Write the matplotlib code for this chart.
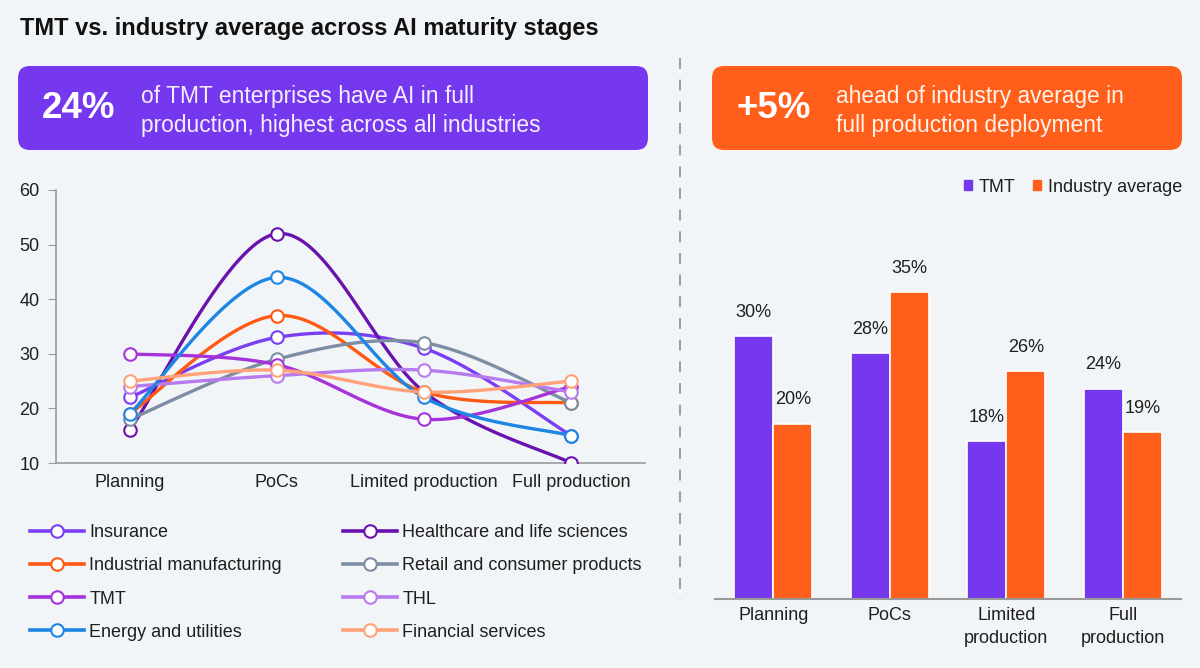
import numpy as np
import matplotlib
import matplotlib.pyplot as plt
from matplotlib.patches import FancyBboxPatch, Patch
from matplotlib.lines import Line2D

matplotlib.use('Agg')
plt.rcParams['font.family'] = ['Liberation Sans', 'DejaVu Sans']

# ---- data ----
stages = ['Planning', 'PoCs', 'Limited production', 'Full production']
bar_stages = ['Planning', 'PoCs', 'Limited\nproduction', 'Full\nproduction']

industries = ['Insurance', 'Healthcare and life sciences', 'Industrial manufacturing',
              'Retail and consumer products', 'TMT', 'THL', 'Energy and utilities',
              'Financial services']
insurance = [22, 33, 31, 15]
healthcare = [16, 52, 23, 10]
industrial = [19, 37, 23, 21]
retail = [18, 29, 32, 21]
tmt = [30, 28, 18, 24]
thl = [24, 26, 27, 23]
energy = [19, 44, 22, 15]
financial = [25, 27, 23, 25]
series = [insurance, healthcare, industrial, retail, tmt, thl, energy, financial]
line_colors = ['#7b3ff2', '#6a12ad', '#ff5a14', '#7d8da3', '#a633d9', '#b87bed', '#1d86e3', '#ffa27a']

tmt_share = [30, 28, 18, 24]
industry_avg = [20, 35, 26, 19]

BG = '#f2f5f8'
PURPLE = '#7538ef'
ORANGE = '#ff5f1a'
TXT = '#1f1f1f'
FS = 13


def smooth(xs, ys, n=40):
    # catmull-rom through the points, roughly like the smoothed office lines
    pts = np.column_stack([xs, ys]).astype(float)
    p = np.vstack([pts[0], pts, pts[-1]])
    t = np.linspace(0, 1, n)[:, None]
    out = []
    for i in range(1, len(p) - 2):
        p0, p1, p2, p3 = p[i - 1], p[i], p[i + 1], p[i + 2]
        seg = 0.5 * (2 * p1 + (-p0 + p2) * t + (2 * p0 - 5 * p1 + 4 * p2 - p3) * t ** 2
                     + (-p0 + 3 * p1 - 3 * p2 + p3) * t ** 3)
        out.append(seg)
    return np.vstack(out)


fig = plt.figure(figsize=(12, 6.68), dpi=100, facecolor=BG)

# background layer in pixel coordinates
bg = fig.add_axes([0, 0, 1, 1])
bg.set_xlim(0, 1200)
bg.set_ylim(668, 0)
bg.axis('off')
bg.text(20, 28, 'TMT vs. industry average across AI maturity stages', fontsize=17,
        fontweight='bold', color='#111111', va='center', ha='left')

bg.add_patch(FancyBboxPatch((18, 66), 630, 84, boxstyle='round,pad=0,rounding_size=12',
                            facecolor=PURPLE, edgecolor='none'))
bg.text(42, 109, '24%', fontsize=26.5, fontweight='bold', color='white', va='center', ha='left')
bg.text(141, 111, 'of TMT enterprises have AI in full\nproduction, highest across all industries',
        fontsize=16.4, color='#f4efff', va='center', ha='left', linespacing=1.32)

bg.add_patch(FancyBboxPatch((712, 66), 470, 84, boxstyle='round,pad=0,rounding_size=12',
                            facecolor=ORANGE, edgecolor='none'))
bg.text(737, 109, '+5%', fontsize=26.5, fontweight='bold', color='white', va='center', ha='left')
bg.text(836, 111, 'ahead of industry average in\nfull production deployment',
        fontsize=16.4, color='#fff3ec', va='center', ha='left', linespacing=1.32)

bg.plot([680, 680], [58, 600], color='#8a97aa', lw=1.3, ls=(0, (6, 6)))

# ---- line chart ----
ax = fig.add_axes([56 / 1200, (668 - 463) / 668, 589 / 1200, 273 / 668])
ax.set_facecolor('none')
x = np.arange(len(stages))
handles = []
for name, vals, col in zip(industries, series, line_colors):
    curve = smooth(x, vals)
    ax.plot(curve[:, 0], curve[:, 1], color=col, lw=2.4, solid_capstyle='round', zorder=2)
    ax.plot(x, vals, 'o', color=col, mfc='white', mec=col, mew=1.5, ms=9, zorder=3)
    handles.append(Line2D([0], [0], color=col, lw=2.6, marker='o', mfc='white', mec=col,
                          mew=1.5, ms=9))
ax.set_xlim(-0.5, 3.5)
ax.set_ylim(10, 60)
ax.set_yticks([10, 20, 30, 40, 50, 60])
ax.set_xticks(x)
ax.set_xticklabels(stages)
ax.tick_params(axis='x', length=0, labelsize=FS, colors=TXT, pad=8)
ax.tick_params(axis='y', length=6, color='#9a9a9a', labelsize=FS, labelcolor=TXT, pad=6)
for s in ['top', 'right']:
    ax.spines[s].set_visible(False)
for s in ['left', 'bottom']:
    ax.spines[s].set_color('#9a9a9a')
    ax.spines[s].set_linewidth(1.2)

# legend, row-major order as in the picture
order = [0, 2, 4, 6, 1, 3, 5, 7]
fig.legend([handles[i] for i in order], [industries[i] for i in order], ncol=2,
           loc='upper left', bbox_to_anchor=(30 / 1200, 1 - 524 / 668), frameon=False,
           fontsize=FS, handlelength=3.0, handletextpad=0.28, columnspacing=3.4,
           labelspacing=0.9, labelcolor=TXT, borderaxespad=0, borderpad=0)

# ---- bar chart ----
bx = fig.add_axes([715 / 1200, (668 - 599) / 668, 466 / 1200, 399 / 668])
bx.set_facecolor('none')
w = 0.335
xb = np.arange(len(bar_stages))
b1 = bx.bar(xb - w / 2, tmt_share, w, color=PURPLE, edgecolor='white', linewidth=1.2, label='TMT')
b2 = bx.bar(xb + w / 2, industry_avg, w, color=ORANGE, edgecolor='white', linewidth=1.2,
            label='Industry average')
for bars, vals in [(b1, tmt_share), (b2, industry_avg)]:
    for r, v in zip(bars, vals):
        bx.annotate(f'{v}%', (r.get_x() + r.get_width() / 2, r.get_height()),
                    xytext=(0, 11), textcoords='offset points', ha='center', va='bottom',
                    fontsize=FS, color=TXT)
bx.set_xlim(-0.5, 3.5)
bx.set_ylim(0, 399 / 8.77)
bx.set_yticks([])
bx.set_xticks(xb)
bx.set_xticklabels(bar_stages, linespacing=1.44)
bx.tick_params(axis='x', length=0, labelsize=FS, colors=TXT, pad=6)
for s in ['top', 'right', 'left']:
    bx.spines[s].set_visible(False)
bx.spines['bottom'].set_color('#9a9a9a')
bx.spines['bottom'].set_linewidth(1.5)

fig.legend(handles=[Patch(color=PURPLE), Patch(color=ORANGE)], labels=['TMT', 'Industry average'],
           ncol=2, loc='center right', bbox_to_anchor=(1182 / 1200, 1 - 187 / 668), frameon=False,
           fontsize=FS, handlelength=0.45, handleheight=0.45, handletextpad=0.35, columnspacing=1.0,
           labelcolor=TXT, borderaxespad=0, borderpad=0)

fig.savefig('out.png', dpi=100, facecolor=BG)
